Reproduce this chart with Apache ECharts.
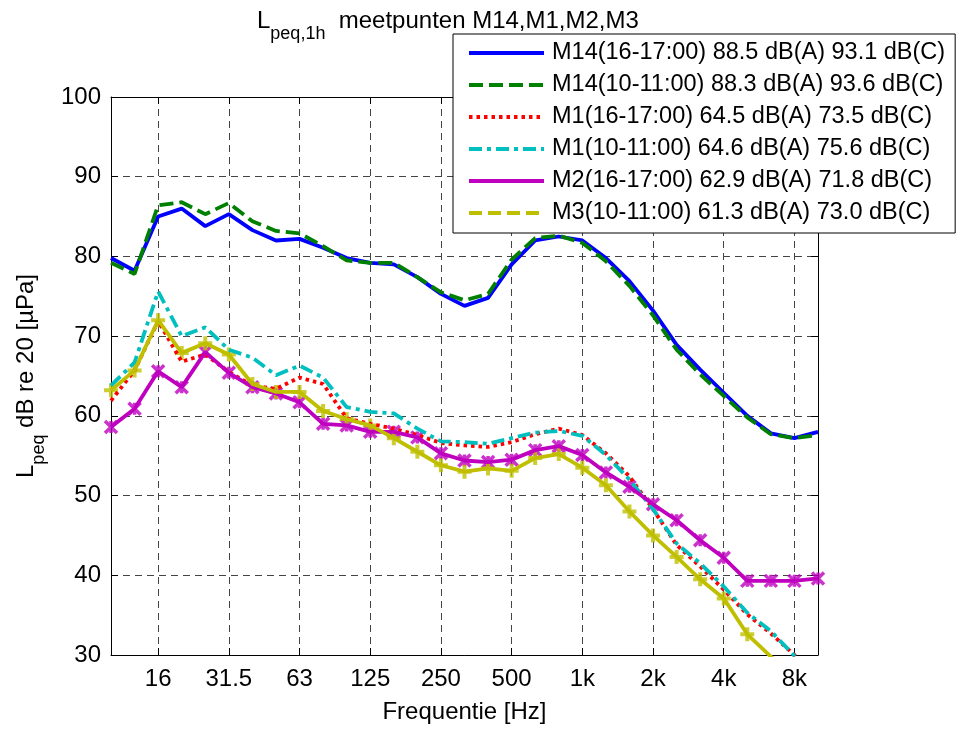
<!DOCTYPE html>
<html>
<head>
<meta charset="utf-8">
<script src="https://cdn.jsdelivr.net/npm/echarts@6/dist/echarts.min.js"></script>
<style>
html,body{margin:0;padding:0;background:#fff;}
#chart{width:970px;height:729px;}
</style>
</head>
<body>
<div id="chart"></div>
<script>
// third-octave band centre frequencies (category axis)
const freqLabels = ['10','12.5','16','20','25','31.5','40','50','63','80','100','125','160','200','250','315','400','500','630','800','1k','1.25k','1.6k','2k','2.5k','3.15k','4k','5k','6.3k','8k','10k'];
// labelled ticks
const tickLabels = ['16','31.5','63','125','250','500','1k','2k','4k','8k'];
const yMin = 30, yMax = 100, yStep = 10;

const seriesNames = [
  'M14(16-17:00) 88.5 dB(A) 93.1 dB(C)',
  'M14(10-11:00) 88.3 dB(A) 93.6 dB(C)',
  'M1(16-17:00) 64.5 dB(A) 73.5 dB(C)',
  'M1(10-11:00) 64.6 dB(A) 75.6 dB(C)',
  'M2(16-17:00) 62.9 dB(A) 71.8 dB(C)',
  'M3(10-11:00) 61.3 dB(A) 73.0 dB(C)'
];

const m14_1617 = [79.8,78.2,85.0,86.0,83.8,85.3,83.3,82.0,82.2,81.1,79.8,79.2,79.0,77.4,75.3,73.8,74.8,79.0,82.0,82.5,82.0,79.8,76.9,73.2,68.9,65.8,62.9,60.0,57.8,57.2,58.0];
const m14_1011 = [79.2,77.8,86.4,86.8,85.3,86.7,84.4,83.2,82.9,81.3,79.5,79.2,79.2,77.4,75.5,74.5,75.3,79.6,82.3,82.6,81.7,79.4,76.3,72.6,68.3,65.2,62.5,59.8,57.7,57.2,57.6];
const m1_1617  = [61.9,65.7,71.9,66.8,67.7,65.5,63.8,63.4,64.8,64.0,59.7,59.0,58.4,57.6,56.6,56.3,56.1,56.7,57.7,58.4,57.6,55.3,52.4,48.3,43.8,41.1,38.2,35.1,32.7,30.0,26.5];
const m1_1011  = [63.8,66.7,75.6,70.0,71.1,68.3,67.3,65.1,66.3,64.8,61.1,60.5,60.3,58.4,56.8,56.7,56.5,57.2,57.9,58.1,57.5,55.1,52.0,48.3,44.0,41.5,38.6,35.3,33.0,29.9,26.0];
const m2_1617  = [58.6,60.9,65.6,63.6,68.0,65.4,63.6,62.8,61.7,59.0,58.8,58.0,58.0,57.3,55.3,54.4,54.2,54.5,55.7,56.2,55.1,52.9,51.1,48.9,46.9,44.4,42.2,39.3,39.3,39.3,39.6];
const m3_1011  = [63.2,65.7,72.0,67.9,69.1,67.7,64.0,63.0,63.0,60.6,59.6,58.8,57.2,55.5,53.8,53.0,53.4,53.1,54.7,55.2,53.5,51.3,48.0,45.0,42.3,39.5,37.1,32.6,29.8,27.0,24.5];

const colors = ['#0000FF','#008000','#FF0000','#00BFBF','#BF00BF','#BFBF00'];
const FONT = '"Liberation Sans", Arial, Helvetica, sans-serif';
const FS = 24;
const LFS = 23.5;
const SUB = 18;
const LW = 3.8;

const showTick = (idx, val) => tickLabels.indexOf(val) >= 0;

const chart = echarts.init(document.getElementById('chart'), null, {renderer: 'canvas'});

const asteriskPath = 'path://M0,0L10,10M10,0L0,10M5,0L5,10';
const plusPath = 'path://M5,0L5,10M0,5L10,5';

const richMain = {fontSize: FS, fontFamily: FONT, fontWeight: 'normal', color: '#000', fill: '#000', lineHeight: 26, verticalAlign: 'top'};
const richSub = {fontSize: SUB, fontFamily: FONT, fontWeight: 'normal', color: '#000', fill: '#000', lineHeight: 34, verticalAlign: 'bottom'};

const option = {
  animation: false,
  backgroundColor: '#ffffff',
  textStyle: {fontFamily: FONT, color: '#000'},
  title: {
    text: '{m|L}{s|peq,1h}{m|  meetpunten M14,M1,M2,M3}',
    left: 257,
    top: 9,
    padding: 0,
    textStyle: {
      fontWeight: 'normal',
      rich: {m: richMain, s: richSub}
    }
  },
  graphic: [{
    type: 'text',
    x: 31,
    y: 376,
    rotation: Math.PI / 2,
    style: {
      text: '{m|L}{s|peq}{m| dB re 20 [µPa]}',
      textAlign: 'center', textVerticalAlign: 'middle',
      align: 'center', verticalAlign: 'middle',
      fill: '#000',
      rich: {m: richMain, s: richSub}
    },
    z: 100
  }],
  legend: {
    orient: 'vertical',
    left: 453,
    top: 34,
    padding: [7, 10, 8, 14],
    itemWidth: 75,
    itemHeight: 14,
    itemGap: 8,
    selectedMode: false,
    backgroundColor: '#ffffff',
    borderColor: '#000',
    borderWidth: 1,
    borderRadius: 0,
    itemStyle: {color: 'transparent', borderColor: 'transparent', borderWidth: 0, opacity: 0},
    lineStyle: {width: 4},
    textStyle: {fontSize: LFS, fontFamily: FONT, color: '#000', lineHeight: 24, padding: [0,0,0,3]},
    data: seriesNames.map((n, i) => i === 5 ? {name: n, lineStyle: {type: [13, 6], width: 4}} : {name: n}),
    z: 20
  },
  grid: {left: 111, right: 152, top: 97, bottom: 67, containLabel: false},
  xAxis: [{
    type: 'category',
    data: freqLabels,
    boundaryGap: false,
    axisLine: {show: true, lineStyle: {color: '#000', width: 1}},
    axisTick: {show: true, inside: true, length: 7, interval: showTick, lineStyle: {color: '#000'}},
    axisLabel: {interval: showTick, color: '#000', fontSize: FS, fontFamily: FONT, margin: 12},
    splitLine: {show: true, interval: showTick, lineStyle: {color: '#444', width: 1, type: [7, 5]}},
    name: 'Frequentie [Hz]',
    nameLocation: 'middle',
    nameGap: 45,
    nameTextStyle: {fontSize: FS, fontFamily: FONT, color: '#000'}
  }, {
    type: 'category',
    data: freqLabels,
    position: 'top',
    boundaryGap: false,
    axisLine: {show: true, lineStyle: {color: '#000', width: 1}},
    axisTick: {show: true, inside: true, length: 7, interval: showTick, lineStyle: {color: '#000'}},
    axisLabel: {show: false},
    splitLine: {show: false}
  }],
  yAxis: [{
    type: 'value',
    min: yMin, max: yMax, interval: yStep,
    axisLine: {show: true, lineStyle: {color: '#000', width: 1}},
    axisTick: {show: true, inside: true, length: 7, lineStyle: {color: '#000'}},
    axisLabel: {color: '#000', fontSize: FS, fontFamily: FONT, margin: 10},
    splitLine: {show: true, lineStyle: {color: '#444', width: 1, type: [7, 5]}}
  }, {
    type: 'value',
    position: 'right',
    min: yMin, max: yMax, interval: yStep,
    axisLine: {show: true, lineStyle: {color: '#000', width: 1}},
    axisTick: {show: true, inside: true, length: 7, lineStyle: {color: '#000'}},
    axisLabel: {show: false},
    splitLine: {show: false}
  }],
  series: [
    {name: seriesNames[0], type: 'line', data: m14_1617, symbol: 'none', clip: true,
      lineStyle: {color: colors[0], width: LW, type: 'solid'}, itemStyle: {color: colors[0]}},
    {name: seriesNames[1], type: 'line', data: m14_1011, symbol: 'none', clip: true,
      lineStyle: {color: colors[1], width: LW, type: [14, 6]}, itemStyle: {color: colors[1]}},
    {name: seriesNames[2], type: 'line', data: m1_1617, symbol: 'none', clip: true,
      lineStyle: {color: colors[2], width: LW, type: [3.5, 4]}, itemStyle: {color: colors[2]}},
    {name: seriesNames[3], type: 'line', data: m1_1011, symbol: 'none', clip: true,
      lineStyle: {color: colors[3], width: LW, type: [13, 5, 4, 5]}, itemStyle: {color: colors[3]}},
    {name: seriesNames[4], type: 'line', data: m2_1617, symbol: 'none', clip: true,
      lineStyle: {color: colors[4], width: LW, type: 'solid'}, itemStyle: {color: colors[4]}},
    {name: seriesNames[4] + ' markers', type: 'scatter', data: m2_1617, symbol: asteriskPath, symbolSize: 12, clip: true,
      itemStyle: {color: colors[4], borderColor: colors[4], borderWidth: 3.5}},
    {name: seriesNames[5], type: 'line', data: m3_1011, symbol: 'none', clip: true,
      lineStyle: {color: colors[5], width: LW, type: 'solid'}, itemStyle: {color: colors[5]}},
    {name: seriesNames[5] + ' markers', type: 'scatter', data: m3_1011, symbol: plusPath, symbolSize: 14, clip: true,
      itemStyle: {color: colors[5], borderColor: colors[5], borderWidth: 4}}
  ]
};
chart.setOption(option);
</script>
</body>
</html>
